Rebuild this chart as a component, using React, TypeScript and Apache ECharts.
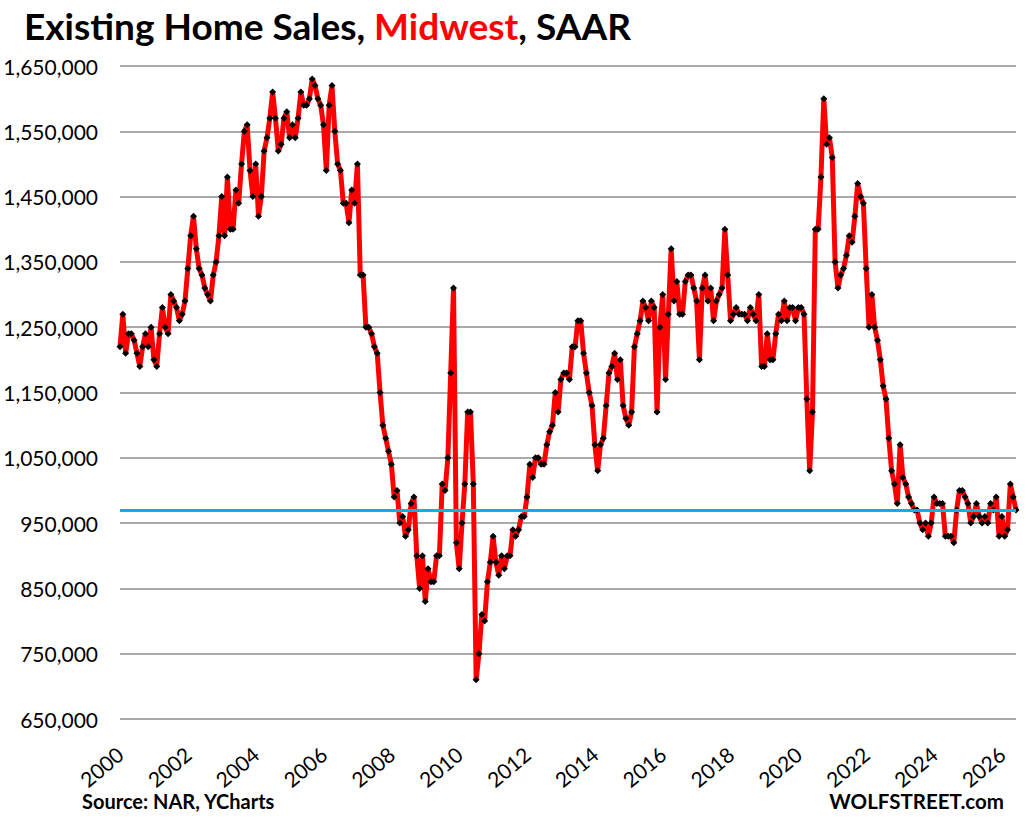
import React, { useEffect, useRef } from "react";
import * as echarts from "echarts";

// Existing home sales, Midwest, SAAR (thousands), monthly from Jan 2000
const START_YEAR = 2000;
const sales2000to2006 = [
  1220, 1270, 1210, 1240, 1240, 1230, 1210, 1190, 1220, 1240, 1220, 1250,
  1200, 1190, 1240, 1280, 1250, 1240, 1300, 1290, 1280, 1260, 1270, 1290,
  1340, 1390, 1420, 1370, 1340, 1330, 1310, 1300, 1290, 1330, 1350, 1390,
  1450, 1390, 1480, 1400, 1400, 1460, 1440, 1500, 1550, 1560, 1490, 1450,
  1500, 1420, 1450, 1520, 1540, 1570, 1610, 1570, 1520, 1530, 1570, 1580,
  1540, 1560, 1540, 1570, 1610, 1590, 1590, 1600, 1630, 1620, 1600, 1590,
  1560, 1490, 1590, 1620, 1550, 1500, 1490, 1440, 1440, 1410, 1460, 1440,
];
const sales2007to2012 = [
  1500, 1330, 1330, 1250, 1250, 1240, 1220, 1210, 1150, 1100, 1080, 1060,
  1040, 990, 1000, 950, 960, 930, 940, 980, 990, 900, 850, 900,
  830, 880, 860, 860, 900, 900, 1010, 1000, 1050, 1180, 1310, 920,
  880, 950, 1010, 1120, 1120, 1010, 710, 750, 810, 800, 860, 890,
  930, 890, 870, 900, 880, 900, 900, 940, 930, 940, 960, 960,
  990, 1040, 1020, 1050, 1050, 1040, 1040, 1070, 1090, 1100, 1150, 1120,
];
const sales2013to2019 = [
  1170, 1180, 1180, 1170, 1220, 1220, 1260, 1260, 1210, 1180, 1150, 1130,
  1070, 1030, 1070, 1080, 1130, 1180, 1190, 1210, 1170, 1200, 1130, 1110,
  1100, 1120, 1220, 1240, 1260, 1290, 1280, 1260, 1290, 1280, 1120, 1250,
  1300, 1170, 1270, 1370, 1290, 1320, 1270, 1270, 1320, 1330, 1330, 1310,
  1290, 1200, 1310, 1330, 1290, 1310, 1260, 1290, 1300, 1310, 1400, 1330,
  1260, 1270, 1280, 1270, 1270, 1270, 1260, 1280, 1270, 1260, 1300, 1190,
  1190, 1240, 1200, 1200, 1240, 1270, 1260, 1290, 1260, 1280, 1280, 1260,
];
const sales2020to2026 = [
  1280, 1280, 1270, 1140, 1030, 1120, 1400, 1400, 1480, 1600, 1530, 1540,
  1510, 1350, 1310, 1330, 1340, 1360, 1390, 1380, 1420, 1470, 1450, 1440,
  1340, 1250, 1300, 1250, 1230, 1200, 1160, 1140, 1080, 1030, 1010, 980,
  1070, 1020, 1010, 990, 980, 970, 970, 950, 940, 950, 930, 950,
  990, 980, 980, 980, 930, 930, 930, 920, 970, 1000, 1000, 990,
  980, 950, 960, 980, 960, 950, 960, 950, 980, 970, 990, 930,
  960, 930, 940, 1010, 990, 970,
];
const currentLevel = 970000;
const yMin = 650000;
const yMax = 1650000;
const yStep = 100000;
const labelEveryMonths = 24;

const salesValues = [
  ...sales2000to2006,
  ...sales2007to2012,
  ...sales2013to2019,
  ...sales2020to2026,
].map((v) => v * 1000);

const monthCategories = salesValues.map((_, i) => {
  const y = START_YEAR + Math.floor(i / 12);
  const m = (i % 12) + 1;
  return `${y}-${m < 10 ? "0" + m : m}`;
});

const FONT = "Lato, 'Open Sans', sans-serif";

export default function App() {
  const ref = useRef<HTMLDivElement>(null);

  useEffect(() => {
    document.body.style.margin = "0";
    const chart = echarts.init(ref.current!, null, { renderer: "svg" });
    chart.setOption({
      animation: false,
      backgroundColor: "#ffffff",
      title: {
        text: "{a|Existing Home Sales, }{b|Midwest}{a|, SAAR}",
        left: 24,
        top: 5,
        padding: 0,
        textStyle: {
          rich: {
            a: { fontFamily: FONT, fontWeight: "bold", fontSize: 37, lineHeight: 40, color: "#000000" },
            b: { fontFamily: FONT, fontWeight: "bold", fontSize: 37, lineHeight: 40, color: "#ff0000" },
          },
        },
      },
      grid: { left: 120, right: 10, top: 66, bottom: 99, containLabel: false },
      xAxis: {
        type: "category",
        data: monthCategories,
        boundaryGap: false,
        axisLine: { show: false },
        axisTick: { show: false },
        splitLine: { show: false },
        axisLabel: {
          interval: (index: number) => index % labelEveryMonths === 0,
          formatter: (v: string) => v.slice(0, 4),
          rotate: 40,
          margin: 32,
          color: "#000000",
          fontFamily: FONT,
          fontSize: 21,
        },
      },
      yAxis: {
        type: "value",
        min: yMin,
        max: yMax,
        interval: yStep,
        axisLine: { show: false },
        axisTick: { show: false },
        splitLine: { lineStyle: { color: "#8c8c8c", width: 1.5 } },
        axisLabel: {
          margin: 22,
          color: "#000000",
          fontFamily: FONT,
          fontSize: 21,
          formatter: (v: number) => v.toLocaleString("en-US"),
        },
      },
      series: [
        {
          type: "line",
          data: salesValues,
          symbol: "diamond",
          symbolSize: 7,
          showAllSymbol: true,
          lineStyle: { color: "#ff0000", width: 5 },
          itemStyle: { color: "#000000" },
          markLine: {
            silent: true,
            symbol: ["none", "none"],
            label: { show: false },
            lineStyle: { color: "#00b0f0", width: 3, type: "solid" },
            data: [{ yAxis: currentLevel }],
          },
          z: 2,
        },
      ],
      graphic: [
        {
          type: "text",
          left: 82,
          top: 791,
          style: {
            text: "Source: NAR, YCharts",
            font: `bold 20px ${FONT}`,
            fill: "#000000",
          },
        },
        {
          type: "text",
          right: 22,
          top: 790,
          style: {
            text: "WOLFSTREET.com",
            font: `bold 20.5px ${FONT}`,
            fill: "#000000",
          },
        },
      ],
    });
    return () => chart.dispose();
  }, []);

  return <div ref={ref} style={{ width: 1026, height: 818 }} />;
}
